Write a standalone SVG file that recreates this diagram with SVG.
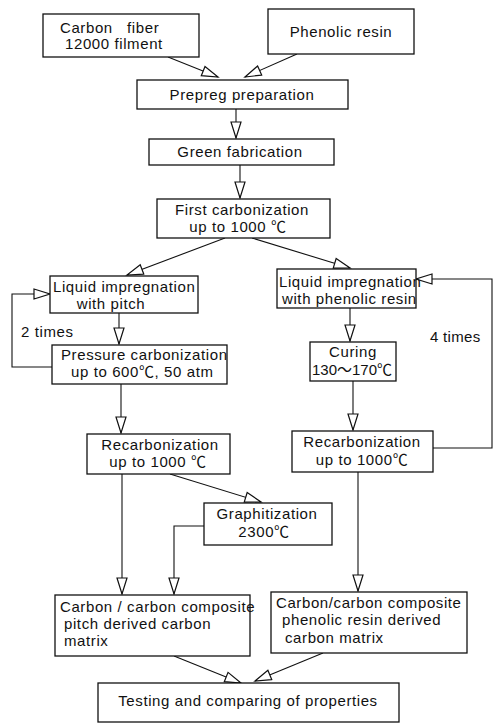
<svg xmlns="http://www.w3.org/2000/svg" width="495" height="723" viewBox="0 0 495 723">
<style>
.box{fill:#fff;stroke:#111;stroke-width:1.3}
.t{font-family:"Liberation Sans",Arial,"Noto Sans CJK SC",sans-serif;font-size:15px;letter-spacing:0.6px;fill:#111}
.m{text-anchor:middle}
.pre{white-space:pre}
.c{fill:none;stroke:#111;stroke-width:1.1;marker-end:url(#ah)}
</style>
<defs>
<marker id="ah" markerUnits="userSpaceOnUse" markerWidth="18" markerHeight="12" refX="16" refY="5" orient="auto" overflow="visible">
<path d="M0,0 L16,5 L0,10 Z" fill="#fff" stroke="#111" stroke-width="1.2"/>
</marker>
</defs>
<rect width="495" height="723" fill="#fff"/>
<g id="connectors">
<line class="c" x1="168" y1="57" x2="218" y2="77"/>
<line class="c" x1="297" y1="54" x2="245" y2="77"/>
<line class="c" x1="236" y1="109" x2="236" y2="138"/>
<line class="c" x1="240" y1="165" x2="240" y2="198"/>
<line class="c" x1="225" y1="238" x2="127" y2="275"/>
<line class="c" x1="252" y1="238" x2="350" y2="268"/>
<line class="c" x1="119" y1="313" x2="119" y2="344"/>
<polyline class="c" points="52,367 12,367 12,294 50,294"/>
<line class="c" x1="121" y1="384" x2="121" y2="433"/>
<line class="c" x1="350" y1="308" x2="350" y2="341"/>
<line class="c" x1="353" y1="381" x2="353" y2="430"/>
<polyline class="c" points="433,448 492,448 492,279 416,279"/>
<line class="c" x1="122" y1="474" x2="122" y2="594"/>
<line class="c" x1="170" y1="474" x2="261" y2="502"/>
<polyline class="c" points="204,526 174,526 174,594"/>
<line class="c" x1="358" y1="472" x2="358" y2="591"/>
<line class="c" x1="174" y1="656" x2="241" y2="683"/>
<line class="c" x1="323" y1="653" x2="255" y2="681"/>
</g>
<g id="carbon-fiber">
<rect class="box" x="43" y="14" width="156" height="43"/>
<text class="t pre" x="60" y="33">Carbon   fiber</text>
<text class="t" x="65" y="49">12000 filment</text>
</g>
<g id="phenolic-resin">
<rect class="box" x="268" y="9" width="146" height="45"/>
<text class="t m" x="341" y="37">Phenolic resin</text>
</g>
<g id="prepreg">
<rect class="box" x="137" y="80" width="211" height="29"/>
<text class="t m" x="242" y="100">Prepreg preparation</text>
</g>
<g id="green">
<rect class="box" x="149" y="139" width="185" height="26"/>
<text class="t m" x="240" y="157">Green fabrication</text>
</g>
<g id="first-carb">
<rect class="box" x="157" y="199" width="173" height="39"/>
<text class="t m" x="242" y="215">First carbonization</text>
<text class="t m" x="238" y="232">up to 1000 ℃</text>
</g>
<g id="pitch-imp">
<rect class="box" x="50" y="276" width="148" height="37"/>
<text class="t" x="53" y="292">Liquid impregnation</text>
<text class="t m" x="111" y="309">with pitch</text>
</g>
<g id="phenolic-imp">
<rect class="box" x="277" y="269" width="139" height="39"/>
<text class="t" x="279" y="287">Liquid impregnation</text>
<text class="t" x="282" y="304">with phenolic resin</text>
</g>
<text class="t" x="21" y="337">2 times</text>
<text class="t" x="430" y="342" style="letter-spacing:0.3px">4 times</text>
<g id="pressure-carb">
<rect class="box" x="52" y="345" width="175" height="39"/>
<text class="t" x="61" y="360">Pressure carbonization</text>
<text class="t" x="71" y="377">up to 600℃, 50 atm</text>
</g>
<g id="curing">
<rect class="box" x="310" y="342" width="86" height="39"/>
<text class="t m" x="353" y="357">Curing</text>
<text class="t m" x="352" y="375" style="letter-spacing:0">130～170℃</text>
</g>
<g id="recarb-left">
<rect class="box" x="87" y="434" width="143" height="40"/>
<text class="t m" x="160" y="450">Recarbonization</text>
<text class="t m" x="158" y="467">up to 1000 ℃</text>
</g>
<g id="recarb-right">
<rect class="box" x="292" y="431" width="141" height="41"/>
<text class="t m" x="362" y="447">Recarbonization</text>
<text class="t m" x="362" y="465">up to 1000℃</text>
</g>
<g id="graphitization">
<rect class="box" x="204" y="503" width="128" height="42"/>
<text class="t m" x="267" y="519">Graphitization</text>
<text class="t m" x="264" y="537">2300℃</text>
</g>
<g id="composite-left">
<rect class="box" x="55" y="595" width="195" height="61"/>
<text class="t" x="60" y="612">Carbon / carbon composite</text>
<text class="t" x="64" y="629">pitch derived carbon</text>
<text class="t" x="64" y="646">matrix</text>
</g>
<g id="composite-right">
<rect class="box" x="271" y="592" width="196" height="61"/>
<text class="t" x="276" y="608">Carbon/carbon composite</text>
<text class="t" x="282" y="625">phenolic resin derived</text>
<text class="t" x="285" y="643">carbon matrix</text>
</g>
<g id="testing">
<rect class="box" x="98" y="683" width="301" height="39"/>
<text class="t m" x="248" y="706">Testing and comparing of properties</text>
</g>
</svg>
